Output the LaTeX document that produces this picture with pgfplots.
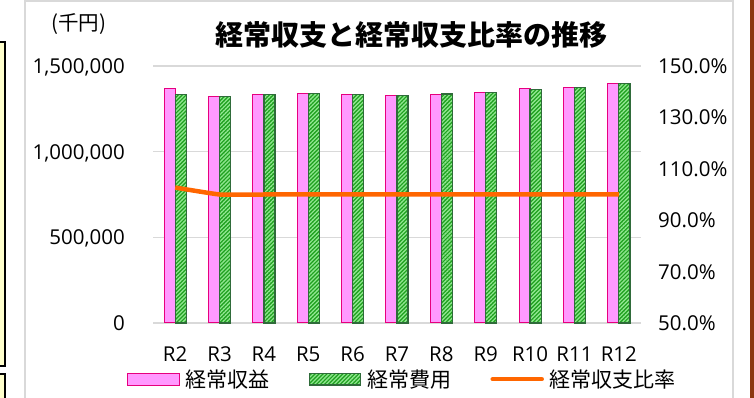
\documentclass[border=0pt]{standalone}
\usepackage{pgfplots}
\pgfplotsset{compat=1.18}
\usepackage{fontspec}
\setmainfont{Open Sans}
\newfontfamily\jp{Noto Sans CJK JP}
\usetikzlibrary{patterns.meta}
\definecolor{pinkfill}{HTML}{FF99FF}
\definecolor{pinkedge}{HTML}{E6007E}
\definecolor{greenfill}{HTML}{1FA01F}
\definecolor{greenstripe}{HTML}{8FE68F}
\definecolor{greenedge}{HTML}{2F6B3A}
\definecolor{orangeline}{HTML}{FF6600}
\definecolor{gridgray}{HTML}{D9D9D9}
\definecolor{boxyellow}{HTML}{FFFFCC}
\definecolor{brownbar}{HTML}{8C370F}

\pgfplotstableread{
x  rev      cost
0  1371000  1334000
1  1320000  1320000
2  1332000  1332000
3  1342000  1340000
4  1334000  1334000
5  1329000  1329000
6  1336000  1336000
7  1348000  1346000
8  1367000  1365000
9  1377000  1375000
10 1398000  1396000
}\bardata

\pgfplotstableread{
x  ratio
0  102.7
1  100.0
2  100.0
3  100.0
4  100.0
5  100.0
6  100.0
7  100.0
8  100.0
9  100.0
10 100.0
}\ratiodata

\begin{document}
\begin{tikzpicture}[x=1pt,y=1pt]
\path[use as bounding box] (0,0) rectangle (754,398);
% surrounding sheet elements
\draw[black, line width=1.2pt, fill=boxyellow] (-3,398-366) rectangle (5,398-42);
\draw[black, line width=1.2pt, fill=boxyellow] (-3,-5) rectangle (5,398-374);
\fill[brownbar] (749.5,-2) rectangle (756,400);
\draw[gridgray, line width=1.3pt] (25,-3) -- (25,397) -- (733,397) -- (733,-3);
% titles
\node[font=\jp\fontsize{28}{28}\selectfont\bfseries] at (411.5,363) {経常収支と経常収支比率の推移};
\node[font=\jp\fontsize{20.5}{20.5}\selectfont] at (78.5,374) {(千円)};

\begin{axis}[
  at={(153pt,75pt)}, anchor=south west,
  scale only axis, width=488pt, height=257pt,
  xmin=-0.5, xmax=10.5,
  ymin=0, ymax=1500000,
  xtick=data,
  xticklabels={R2,R3,R4,R5,R6,R7,R8,R9,R10,R11,R12},
  ytick={0,500000,1000000,1500000},
  scaled y ticks=false,
  /pgf/number format/assume math mode=true,
  /pgf/number format/fixed,
  /pgf/number format/1000 sep={,},
  yticklabel style={font=\fontsize{20.5}{20.5}\selectfont, inner sep=0pt, anchor=base east, xshift=-28pt, yshift=-7.5pt},
  xticklabel style={font=\fontsize{20.5}{20.5}\selectfont, inner sep=0pt, anchor=base, yshift=-38.4pt},
  axis line style={draw=none},
  major tick length=0pt,
  ymajorgrids,
  grid style={gridgray, line width=1.3pt},
  ybar, bar width=0.25,
  clip=false,
]
\addplot[bar shift=-0.125, fill=pinkfill, draw=pinkedge, line width=1pt] table[x=x,y=rev] {\bardata};
\addplot[bar shift=0.125, fill=greenfill, draw=greenedge, line width=1.2pt,
  postaction={pattern={Lines[angle=45,distance=2.8pt,line width=1.3pt]}, pattern color=greenstripe}] table[x=x,y=cost] {\bardata};
\end{axis}

\begin{axis}[
  at={(153pt,75pt)}, anchor=south west,
  scale only axis, width=488pt, height=257pt,
  xmin=-0.5, xmax=10.5,
  ymin=50, ymax=150,
  axis y line*=right,
  axis x line=none,
  ytick={50,70,90,110,130,150},
  /pgf/number format/assume math mode=true,
  yticklabel={\pgfmathprintnumber[fixed,fixed zerofill,precision=1]{\tick}\%},
  yticklabel style={font=\fontsize{20.5}{20.5}\selectfont, inner sep=0pt, anchor=base west, xshift=17pt, yshift=-7.5pt},
  axis line style={draw=none},
  major tick length=0pt,
  legend columns=3,
  legend style={at={(-0.0527,-0.2187)}, anchor=west, draw=none, fill=none,
    inner sep=0pt, outer sep=0pt,
    font=\jp\fontsize{21}{21}\selectfont,
    nodes={inner sep=0pt},
    /tikz/every odd column/.append style={column sep=6pt},
    /tikz/every even column/.append style={column sep=39pt}},
  clip=false,
]
\addlegendimage{legend image code/.code={\draw[pinkedge, fill=pinkfill, line width=1pt] (0pt,-5.8pt) rectangle (51.5pt,5.8pt);}}
\addlegendentry{経常収益}
\addlegendimage{legend image code/.code={\draw[greenedge, fill=greenfill, line width=1.2pt, postaction={pattern={Lines[angle=45,distance=2.8pt,line width=1.3pt]}, pattern color=greenstripe}] (0pt,-5.8pt) rectangle (51.5pt,5.8pt);}}
\addlegendentry{経常費用}
\addlegendimage{legend image code/.code={\draw[orangeline, line width=4.5pt, line cap=round] (2pt,0pt) -- (51pt,0pt);}}
\addlegendentry{経常収支比率}
\addplot[orangeline, line width=4.5pt, smooth, tension=0.2, forget plot] table[x=x,y=ratio] {\ratiodata};
\end{axis}
\end{tikzpicture}
\end{document}
